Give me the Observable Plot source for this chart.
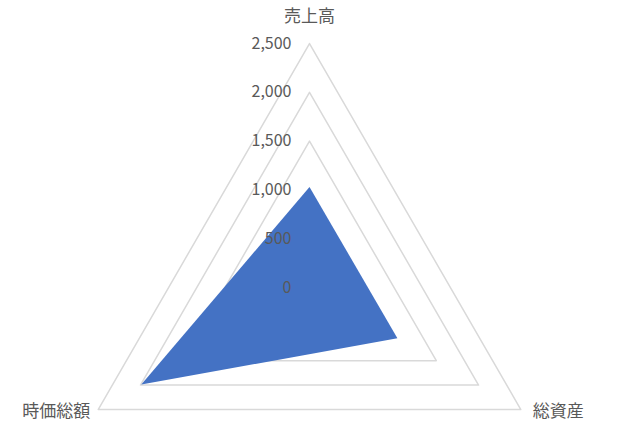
<!DOCTYPE html>
<html>
<head>
<meta charset="utf-8">
<script src="https://cdn.jsdelivr.net/npm/d3@7"></script>
<script src="https://cdn.jsdelivr.net/npm/@observablehq/plot@0.6"></script>
<style>
  html, body { margin: 0; padding: 0; background: #fff; }
  #chart svg { display: block; }
</style>
</head>
<body>
<div id="chart"></div>
<script>
// Data
const categories = ["売上高", "総資産", "時価総額"];
const values = [1030, 1040, 1990];
const ticks = [0, 500, 1000, 1500, 2000, 2500];
const tickLabels = ["0", "500", "1,000", "1,500", "2,000", "2,500"];
const gridLevels = [500, 1000, 1500, 2000, 2500];
const maxValue = 2500;

// Layout
const W = 618, H = 424;
const cx = 309, cy = 287, R = 244; // pixel centre & radius of max level
const k = R / maxValue;

const angle = i => (i * 2 * Math.PI) / categories.length; // clockwise from top
const pt = (i, v) => ({ x: v * Math.sin(angle(i)), y: v * Math.cos(angle(i)) });

const gridData = gridLevels.flatMap(level =>
  categories.map((c, i) => ({ level, ...pt(i, level) }))
);
const seriesData = categories.map((c, i) => ({ cat: c, ...pt(i, values[i]) }));
const tickData = ticks.map((t, j) => ({ x: 0, y: t, label: tickLabels[j] }));
const catData = categories.map((c, i) => ({ cat: c, ...pt(i, maxValue) }));

const font = "'Noto Sans CJK JP', 'Noto Sans', sans-serif";
const textColor = "#595959";

const chart = Plot.plot({
  width: W,
  height: H,
  margin: 0,
  style: { fontFamily: font, background: "#fff" },
  x: { domain: [-cx / k, (W - cx) / k], range: [0, W], axis: null },
  y: { domain: [-(H - cy) / k, cy / k], range: [H, 0], axis: null },
  marks: [
    Plot.line(gridData, {
      x: "x", y: "y", z: "level",
      curve: "linear-closed",
      stroke: "#D9D9D9", strokeWidth: 1.5
    }),
    Plot.line(seriesData, {
      x: "x", y: "y",
      curve: "linear-closed",
      fill: "#4472C4", stroke: "none"
    }),
    Plot.text(tickData, {
      x: "x", y: "y", text: "label",
      textAnchor: "end", dx: -18,
      fill: textColor, fontSize: 16
    }),
    Plot.text(catData.filter((d, i) => i === 0), {
      x: "x", y: "y", text: "cat", dy: -27,
      fill: textColor, fontSize: 17
    }),
    Plot.text(catData.filter((d, i) => i === 1), {
      x: "x", y: "y", text: "cat", textAnchor: "start", dx: 12, dy: 2,
      fill: textColor, fontSize: 17
    }),
    Plot.text(catData.filter((d, i) => i === 2), {
      x: "x", y: "y", text: "cat", textAnchor: "end", dx: -8, dy: 2,
      fill: textColor, fontSize: 17
    })
  ]
});
document.getElementById("chart").appendChild(chart);
</script>
</body>
</html>
